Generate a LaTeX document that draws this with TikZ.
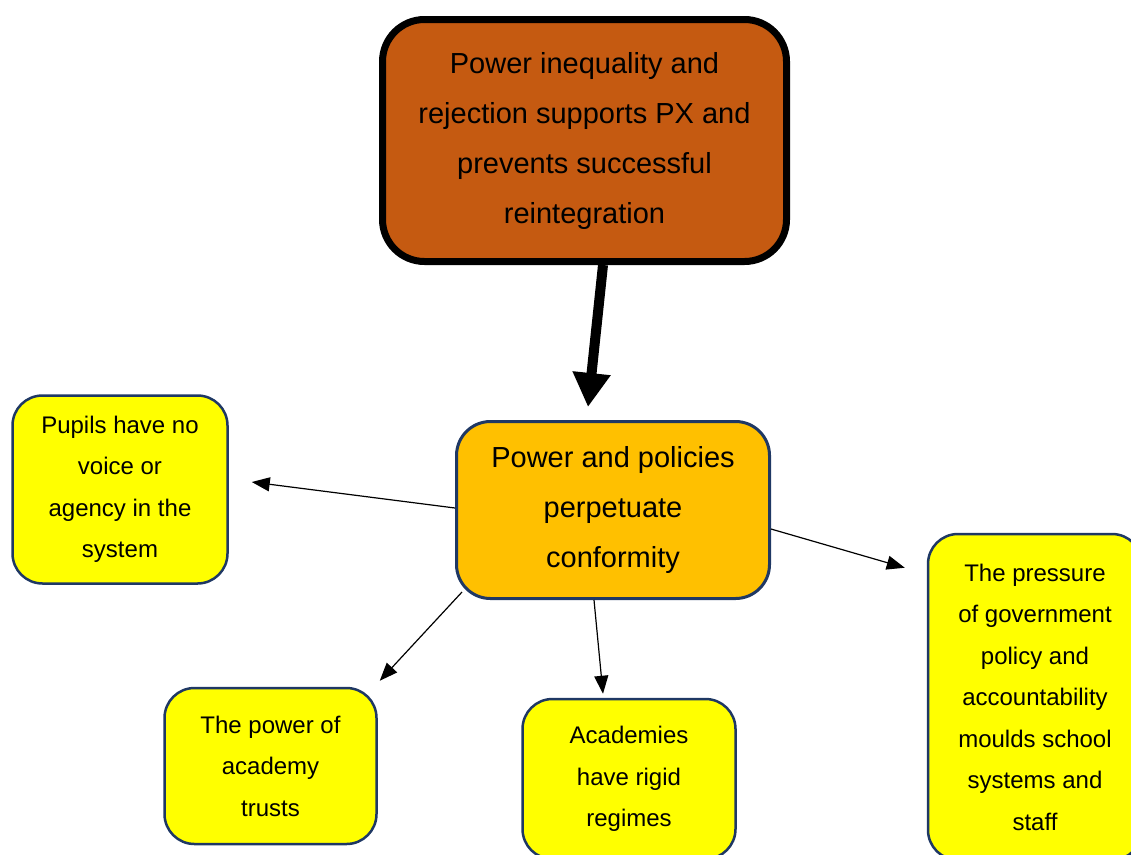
\documentclass[tikz,border=0pt]{standalone}
\usepackage{fontspec}
\setmainfont{Liberation Sans}
\usetikzlibrary{arrows.meta,calc}
\definecolor{rust}{HTML}{C55A11}
\definecolor{amber}{HTML}{FFC000}
\definecolor{lemon}{HTML}{FFFF00}
\definecolor{navy}{HTML}{1F3864}
\tikzset{
  bigbox/.style={draw=black, line width=7pt, fill=rust, rounded corners=42pt,
    inner sep=0pt, align=center, font=\fontsize{29}{50}\selectfont},
  midbox/.style={draw=navy, line width=3pt, fill=amber, rounded corners=34pt,
    inner sep=0pt, align=center, font=\fontsize{29}{50}\selectfont},
  leafbox/.style={draw=navy, line width=2.5pt, fill=lemon, rounded corners=30pt,
    inner sep=0pt, align=center, font=\fontsize{24}{41.5}\selectfont},
  thinarrow/.style={draw=black, line width=1.2pt, -{Triangle[length=18pt,width=14pt]}},
  fatarrow/.style={draw=black, line width=10pt, -{Triangle[length=34pt,width=36pt]}}
}
\begin{document}
\begin{tikzpicture}[x=1pt,y=-1pt]
\useasboundingbox (0,0) rectangle (1131,854);
\clip (0,0) rectangle (1131,854);
\node[bigbox, minimum width=404pt, minimum height=242pt] (top) at (584.5,140.5)
  {Power inequality and\\rejection supports PX and\\prevents successful\\reintegration};
\node[midbox, minimum width=313pt, minimum height=177pt] (mid) at (613,510)
  {Power and policies\\perpetuate\\conformity};
\node[leafbox, minimum width=215pt, minimum height=188pt] (pupils) at (120,489.5)
  {Pupils have no\\voice or\\agency in the\\system};
\node[leafbox, minimum width=212pt, minimum height=156pt] (trusts) at (270.5,766)
  {The power of\\academy\\trusts};
\node[leafbox, minimum width=213pt, minimum height=160pt] (acad) at (629,779)
  {Academies\\have rigid\\regimes};
\node[leafbox, minimum width=214pt, minimum height=326pt] (press) at (1035,697)
  {The pressure\\of government\\policy and\\accountability\\moulds school\\systems and\\staff};
\draw[fatarrow] ($(top.south)+(18.5,0)$) -- ($(mid.north)+(-25,-13)$);
\draw[thinarrow] ($(mid.west)+(0,-2)$) -- ($(pupils.east)+(23,-7.5)$);
\draw[thinarrow] ($(mid.south west)+(7,-8)$) -- ($(trusts.north east)+(2,-6)$);
\draw[thinarrow] ($(mid.south)+(-19,0)$) -- ($(acad.north)+(-26,-4)$);
\draw[thinarrow] ($(mid.east)+(0,19)$) -- ($(press.north west)+(-22,35)$);
\end{tikzpicture}
\end{document}
